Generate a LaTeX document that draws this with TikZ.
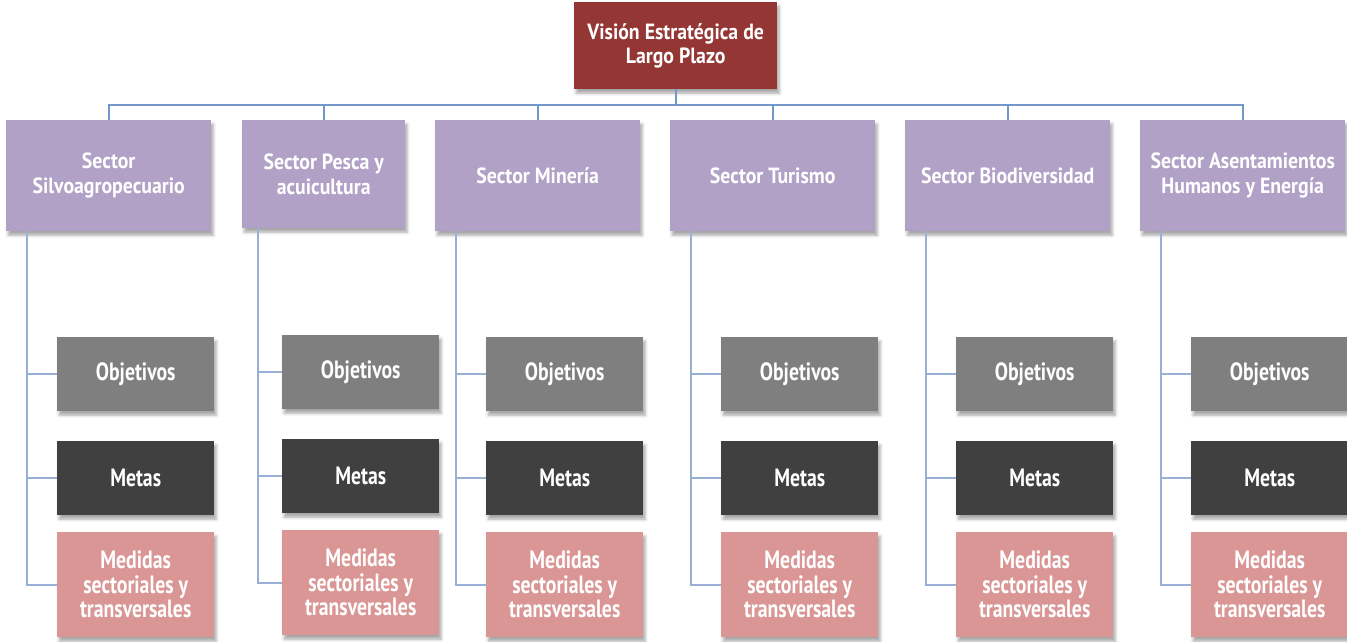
\documentclass[tikz,border=0pt]{standalone}
\usepackage{fontspec}
\setmainfont{PT Sans}
\newfontfamily\secfont{PT Sans}[FakeStretch=0.9]
\newfontfamily\childfont{PT Sans}[FakeStretch=0.79]
\usetikzlibrary{calc,shadows.blur}
\definecolor{cTop}{HTML}{943634}
\definecolor{cSector}{HTML}{B2A1C7}
\definecolor{cObj}{HTML}{7F7F7F}
\definecolor{cMeta}{HTML}{404040}
\definecolor{cMed}{HTML}{D99694}
\definecolor{cLineTop}{HTML}{7297C8}
\definecolor{cLine}{HTML}{9AAFD5}
\tikzset{
  boxbase/.style={rectangle, anchor=north west, inner sep=0pt, align=center,
    text=white, blur shadow={shadow xshift=2pt, shadow yshift=-4pt, shadow blur radius=3pt, shadow opacity=35}},
  topbox/.style={boxbase, fill=cTop, minimum width=203pt, minimum height=87pt,
    font=\secfont\bfseries\fontsize{22}{24}\selectfont},
  secbox/.style={boxbase, fill=cSector, minimum width=205pt, minimum height=111pt,
    font=\secfont\bfseries\fontsize{22}{25}\selectfont},
  childbase/.style={boxbase, minimum width=157pt, font=\childfont\bfseries\fontsize{25}{24.5}\selectfont},
  objbox/.style={childbase, fill=cObj, minimum height=74pt},
  metabox/.style={childbase, fill=cMeta, minimum height=74pt},
  medbox/.style={childbase, fill=cMed, minimum height=105pt},
  topline/.style={draw=cLineTop, line width=2pt},
  branch/.style={draw=cLine, line width=2pt},
}
\begin{document}
\begin{tikzpicture}[x=1pt,y=-1pt]
\useasboundingbox (0,0) rectangle (1347,642);
% top
\node[topbox] (top) at (574,2) {Visión Estratégica de\\Largo Plazo};
% sectors
\node[secbox] (s1) at (6,120) {Sector\\Silvoagropecuario};
\node[secbox, minimum width=163pt, minimum height=108pt] (s2) at (242,120) {Sector Pesca y\\acuicultura};
\node[secbox] (s3) at (435,120) {Sector Minería};
\node[secbox] (s4) at (670,120) {Sector Turismo};
\node[secbox] (s5) at (905,120) {Sector Biodiversidad};
\node[secbox] (s6) at (1140,120) {Sector Asentamientos\\Humanos y Energía};
% children
\node[objbox] (o1) at (57,337) {Objetivos};
\node[metabox] (m1) at (57,441) {Metas};
\node[medbox] (d1) at (57,532) {Medidas\\sectoriales y\\transversales};
\node[objbox] (o2) at (282,335) {Objetivos};
\node[metabox] (m2) at (282,439) {Metas};
\node[medbox] (d2) at (282,530) {Medidas\\sectoriales y\\transversales};
\node[objbox] (o3) at (486,337) {Objetivos};
\node[metabox] (m3) at (486,441) {Metas};
\node[medbox] (d3) at (486,532) {Medidas\\sectoriales y\\transversales};
\node[objbox] (o4) at (721,337) {Objetivos};
\node[metabox] (m4) at (721,441) {Metas};
\node[medbox] (d4) at (721,532) {Medidas\\sectoriales y\\transversales};
\node[objbox] (o5) at (956,337) {Objetivos};
\node[metabox] (m5) at (956,441) {Metas};
\node[medbox] (d5) at (956,532) {Medidas\\sectoriales y\\transversales};
\node[objbox] (o6) at (1191,337) {Objetivos};
\node[metabox] (m6) at (1191,441) {Metas};
\node[medbox] (d6) at (1191,532) {Medidas\\sectoriales y\\transversales};
% top connectors
\coordinate (bar) at (0,105);
\draw[topline] (top.south) -- (top.south |- bar);
\draw[topline] (s1.north) -- (s1.north |- bar) -- (s6.north |- bar) -- (s6.north);
\foreach \s in {s2,s3,s4,s5}{
  \draw[topline] (\s.north) -- (\s.north |- bar);
}
% branch connectors
\coordinate (v1) at ($(s1.south west)+(21,0)$);
\coordinate (v2) at ($(s2.south west)+(16,0)$);
\coordinate (v3) at ($(s3.south west)+(21,0)$);
\coordinate (v4) at ($(s4.south west)+(21,0)$);
\coordinate (v5) at ($(s5.south west)+(21,0)$);
\coordinate (v6) at ($(s6.south west)+(21,0)$);
\foreach \i in {1,...,6}{
  \draw[branch] (v\i) |- (d\i.west);
  \draw[branch] (v\i |- o\i.west) -- (o\i.west);
  \draw[branch] (v\i |- m\i.west) -- (m\i.west);
}
\end{tikzpicture}
\end{document}
